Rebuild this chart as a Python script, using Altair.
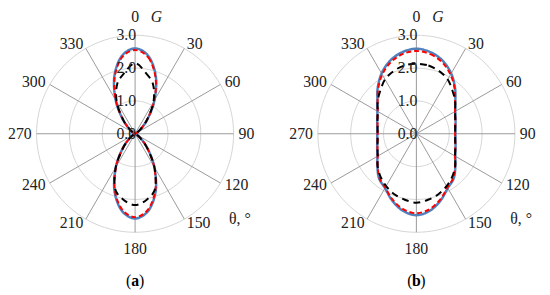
import altair as alt
import pandas as pd

# ---------------- data ----------------
angles = list(range(0, 360, 10))

# panel (a): G(theta), three curves
a_blue = [2.60, 2.39, 1.85, 1.18, 0.60, 0.23, 0.06, 0.01, 0.0, 0.0,
          0.0, 0.01, 0.06, 0.23, 0.60, 1.17, 1.84, 2.37, 2.58, 2.37,
          1.84, 1.17, 0.60, 0.23, 0.06, 0.01, 0.0, 0.0, 0.0, 0.01,
          0.06, 0.23, 0.60, 1.18, 1.85, 2.39]
a_red = [2.55, 2.35, 1.82, 1.17, 0.59, 0.23, 0.06, 0.01, 0.0, 0.0,
         0.0, 0.01, 0.06, 0.23, 0.59, 1.16, 1.81, 2.33, 2.54, 2.33,
         1.81, 1.16, 0.59, 0.23, 0.06, 0.01, 0.0, 0.0, 0.0, 0.01,
         0.06, 0.23, 0.59, 1.17, 1.82, 2.35]
a_black = [2.15, 1.88, 1.60, 1.12, 0.58, 0.22, 0.06, 0.01, 0.0, 0.0,
           0.0, 0.01, 0.06, 0.22, 0.58, 1.18, 1.78, 2.04, 2.17, 2.04,
           1.78, 1.18, 0.58, 0.22, 0.06, 0.01, 0.0, 0.0, 0.0, 0.01,
           0.06, 0.22, 0.58, 1.12, 1.60, 1.88]

# panel (b)
b_blue = [2.59, 2.52, 2.36, 2.12, 1.83, 1.55, 1.37, 1.27, 1.21, 1.19,
          1.21, 1.27, 1.37, 1.55, 1.77, 1.91, 2.16, 2.38, 2.48, 2.38,
          2.16, 1.91, 1.77, 1.55, 1.37, 1.27, 1.21, 1.19, 1.21, 1.27,
          1.37, 1.55, 1.83, 2.12, 2.36, 2.52]
b_red = [2.52, 2.46, 2.31, 2.08, 1.81, 1.54, 1.36, 1.26, 1.20, 1.18,
         1.20, 1.26, 1.36, 1.54, 1.75, 1.89, 2.13, 2.33, 2.42, 2.33,
         2.13, 1.89, 1.75, 1.54, 1.36, 1.26, 1.20, 1.18, 1.20, 1.26,
         1.36, 1.54, 1.81, 2.08, 2.31, 2.46]
b_black = [2.13, 2.11, 2.03, 1.91, 1.71, 1.54, 1.36, 1.26, 1.20, 1.18,
           1.20, 1.26, 1.36, 1.54, 1.70, 1.84, 1.96, 2.04, 2.10, 2.04,
           1.96, 1.84, 1.70, 1.54, 1.36, 1.26, 1.20, 1.18, 1.20, 1.26,
           1.36, 1.54, 1.71, 1.91, 2.03, 2.11]

panels = ["a", "b"]
ring_values = [1.0, 2.0, 3.0]
radial_labels = ["0.0", "1.0", "2.0", "3.0"]
radial_label_values = [0.0, 1.0, 2.0, 3.0]
spoke_angles = list(range(0, 360, 30))
ring_angles = list(range(0, 361, 3))

FONT = "Liberation Serif"
FS = 16
TXT = "#222222"

# layout: both polar panels share one coordinate frame (units of G)
W, H = 542, 287
UNIT = 33.333                     # px per unit of G
XDOM = [-3.87, -3.87 + W / UNIT]
YDOM = [3.765 - H / UNIT, 3.765]
OFFSET_EXPR = "(datum.panel == 'b' ? 8.565 : 0)"   # centre of panel (b)

xs = alt.Scale(domain=XDOM, nice=False, zero=False)
ys = alt.Scale(domain=YDOM, nice=False, zero=False)


def X(field):
    return alt.X(field, type="quantitative", scale=xs, axis=None)


def Y(field):
    return alt.Y(field, type="quantitative", scale=ys, axis=None)


# ---- tables ----
rows = []
for p, series in (("a", (("blue", a_blue), ("red", a_red), ("black", a_black))),
                  ("b", (("blue", b_blue), ("red", b_red), ("black", b_black)))):
    for name, vals in series:
        for i, (t, r) in enumerate(zip(angles, vals)):
            rows.append({"panel": p, "series": name, "theta": t, "r": r, "order": i})
curves = pd.DataFrame(rows)

rings_df = pd.DataFrame([{"panel": p, "ring": rv, "theta": t, "order": i}
                         for p in panels for rv in ring_values
                         for i, t in enumerate(ring_angles)])
spokes_df = pd.DataFrame([{"panel": p, "theta": a, "label": str(a)}
                          for p in panels for a in spoke_angles])
rad_df = pd.DataFrame([{"panel": p, "v": v, "label": l}
                       for p in panels
                       for v, l in zip(radial_label_values, radial_labels)])
txt_df = pd.DataFrame([{"panel": p, "label": l, "px": x, "py": y}
                       for p in panels
                       for l, x, y in (("G", 0.48, 3.55), ("θ, °", 2.86, -2.6))])
cap_df = pd.DataFrame([{"panel": p, "open": "(", "letter": p, "close": ")",
                        "px": 0.0, "py": -4.485} for p in panels])

# ---- layers ----
rings = alt.Chart(rings_df).transform_calculate(
    x=f"{OFFSET_EXPR} + datum.ring*sin(datum.theta*PI/180)",
    y="datum.ring*cos(datum.theta*PI/180)",
).mark_line(color="#d4d4d4", strokeWidth=1).encode(
    x=X("x:Q"), y=Y("y:Q"), detail="key:N", order="order:Q"
).transform_calculate(key="datum.panel + datum.ring")

spokes = alt.Chart(spokes_df).transform_calculate(
    x0=f"{OFFSET_EXPR}", y0="0",
    x1=f"{OFFSET_EXPR} + 3*sin(datum.theta*PI/180)",
    y1="3*cos(datum.theta*PI/180)",
).mark_rule(color="#999999", strokeWidth=1).encode(
    x=X("x0:Q"), y=Y("y0:Q"), x2="x1:Q", y2="y1:Q")

lab_base = alt.Chart(spokes_df).transform_calculate(
    rl="datum.theta == 0 ? 3.55 : (datum.theta == 180 ? 3.5 : 3.15)",
).transform_calculate(
    lx=f"{OFFSET_EXPR} + datum.rl*sin(datum.theta*PI/180)",
    ly="datum.rl*cos(datum.theta*PI/180)",
)
lab_center = lab_base.transform_filter(
    "datum.theta == 0 || datum.theta == 180").mark_text(
    font=FONT, fontSize=FS, align="center", baseline="middle",
    color=TXT).encode(x=X("lx:Q"), y=Y("ly:Q"), text="label:N")
lab_left = lab_base.transform_filter(
    "datum.theta > 0 && datum.theta < 180").mark_text(
    font=FONT, fontSize=FS, align="left", baseline="middle",
    color=TXT).encode(x=X("lx:Q"), y=Y("ly:Q"), text="label:N")
lab_right = lab_base.transform_filter(
    "datum.theta > 180").mark_text(
    font=FONT, fontSize=FS, align="right", baseline="middle",
    color=TXT).encode(x=X("lx:Q"), y=Y("ly:Q"), text="label:N")

rad = alt.Chart(rad_df).transform_calculate(x0=f"{OFFSET_EXPR}").mark_text(
    font=FONT, fontSize=FS, align="right", baseline="middle", dx=1,
    color=TXT).encode(x=X("x0:Q"), y=Y("v:Q"), text="label:N")


def curve(name, color, dash, width):
    return alt.Chart(curves).transform_filter(
        f"datum.series == '{name}'").transform_calculate(
        x=f"{OFFSET_EXPR} + datum.r*sin(datum.theta*PI/180)",
        y="datum.r*cos(datum.theta*PI/180)",
    ).mark_line(color=color, strokeDash=dash, strokeWidth=width,
                interpolate="cardinal-closed").encode(
        x=X("x:Q"), y=Y("y:Q"), detail="panel:N", order="order:Q")


c_blue = curve("blue", "#4F81BD", [1, 0], 2.5)
c_red = curve("red", "#FF0000", [5, 3], 2)
c_black = curve("black", "#000000", [7, 5], 2)

txt_base = alt.Chart(txt_df).transform_calculate(x=f"{OFFSET_EXPR} + datum.px")
g_lab = txt_base.transform_filter("datum.label == 'G'").mark_text(
    font=FONT, fontSize=FS, fontStyle="italic", align="left",
    baseline="middle", color=TXT).encode(
    x=X("x:Q"), y=Y("py:Q"), text="label:N")
th_lab = txt_base.transform_filter("datum.label != 'G'").mark_text(
    font=FONT, fontSize=FS, align="left", baseline="middle",
    color=TXT).encode(x=X("x:Q"), y=Y("py:Q"), text="label:N")

cap_base = alt.Chart(cap_df).transform_calculate(x=f"{OFFSET_EXPR} + datum.px")
cap_mid = cap_base.mark_text(
    font=FONT, fontSize=FS, fontWeight="bold", align="center",
    baseline="middle", color="#000000").encode(
    x=X("x:Q"), y=Y("py:Q"), text="letter:N")
cap_open = cap_base.mark_text(
    font=FONT, fontSize=FS, align="right", baseline="middle", dx=-4,
    color="#000000").encode(x=X("x:Q"), y=Y("py:Q"), text="open:N")
cap_close = cap_base.mark_text(
    font=FONT, fontSize=FS, align="left", baseline="middle", dx=4,
    color="#000000").encode(x=X("x:Q"), y=Y("py:Q"), text="close:N")

chart = alt.layer(
    rings, spokes, c_blue, c_red, c_black, rad,
    lab_center, lab_left, lab_right, g_lab, th_lab,
    cap_open, cap_mid, cap_close,
).properties(
    width=W, height=H, padding=0,
    autosize=alt.AutoSizeParams(type="none"),
).configure(background="white").configure_view(stroke=None)

chart.save("out.html", embed_options={"renderer": "svg", "actions": False})
